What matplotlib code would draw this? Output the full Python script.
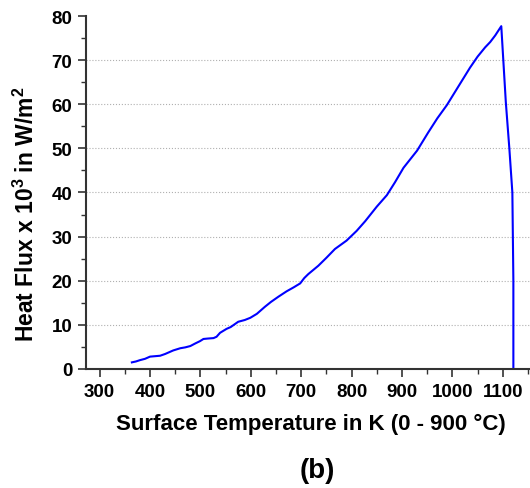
import numpy as np
import matplotlib.pyplot as plt

plt.rcParams['font.family'] = ['Liberation Sans', 'DejaVu Sans']
plt.rcParams['font.weight'] = 'bold'
plt.rcParams['mathtext.fontset'] = 'custom'
plt.rcParams['mathtext.rm'] = 'Liberation Sans:bold'
plt.rcParams['mathtext.bf'] = 'Liberation Sans:bold'

# datos (K, kW/m2)
temp_k = [364, 372, 380, 390, 400, 410, 420, 430, 446, 460, 470, 480, 490, 499,
          506, 515, 526, 532, 539, 552, 560, 575, 588, 599, 612, 628, 640, 655,
          671, 685, 698, 706, 714, 734, 750, 767, 790, 810, 827, 850, 870, 886,
          903, 930, 952, 970, 989, 1009, 1035, 1050, 1065, 1075, 1085, 1097,
          1106, 1113, 1119, 1121, 1121]
flux = [1.5, 1.7, 2.0, 2.3, 2.8, 2.9, 3.0, 3.4, 4.2, 4.7, 4.9, 5.2, 5.8, 6.3,
        6.8, 6.9, 7.0, 7.3, 8.2, 9.1, 9.5, 10.7, 11.1, 11.6, 12.5, 14.1, 15.2,
        16.4, 17.6, 18.5, 19.4, 20.6, 21.5, 23.4, 25.2, 27.2, 29.1, 31.3, 33.5,
        36.8, 39.4, 42.3, 45.6, 49.5, 53.6, 56.8, 59.8, 63.5, 68.3, 70.8, 72.9,
        74.1, 75.6, 77.7, 60.5, 50.0, 40.0, 20.0, 0.0]

grid_y = [10, 20, 30, 40, 50, 60, 70]

fig = plt.figure(figsize=(5.3, 4.89), dpi=100)
ax = fig.add_axes([0.1623, 0.2434, 0.8377, 0.7218])

for g in grid_y:
    ax.axhline(g, color='#b0b0b0', linestyle=':', linewidth=0.8, zorder=0)

ax.plot(temp_k, flux, color='#0000ff', linewidth=1.5)

ax.set_xlim(273, 1154)
ax.set_ylim(0, 80)
ax.set_xticks(np.arange(300, 1101, 100))
ax.set_xticks(np.arange(300, 1151, 50), minor=True)
ax.set_yticks(np.arange(0, 81, 10))
ax.set_yticks(np.arange(0, 81, 5), minor=True)

for s in ['top', 'right']:
    ax.spines[s].set_visible(False)
for s in ['left', 'bottom']:
    ax.spines[s].set_linewidth(1.5)
    ax.spines[s].set_color('#333333')

ax.tick_params(which='major', direction='out', length=6, width=1.2,
               color='#333333', labelsize=13.5, pad=4)
ax.tick_params(which='minor', direction='out', length=3.5, width=1.0,
               color='#333333')
for lab in ax.get_xticklabels() + ax.get_yticklabels():
    lab.set_fontweight('bold')

ax.set_xlabel('Surface Temperature in K (0 - 900 \u00b0C)', fontsize=16,
              fontweight='bold')
ax.xaxis.set_label_coords(0.507, -0.155)
ax.xaxis.label.set_va('center')
ax.set_ylabel(r'Heat Flux x 10$^\mathbf{3}$ in W/m$^\mathbf{2}$', fontsize=16.5,
              fontweight='bold')
ax.yaxis.set_label_coords(-0.135, 0.44)
ax.yaxis.label.set_va('center')

fig.text(0.598, 0.037, '(b)', fontsize=20, fontweight='bold', ha='center',
         va='center')

fig.savefig('out.png', dpi=100)
